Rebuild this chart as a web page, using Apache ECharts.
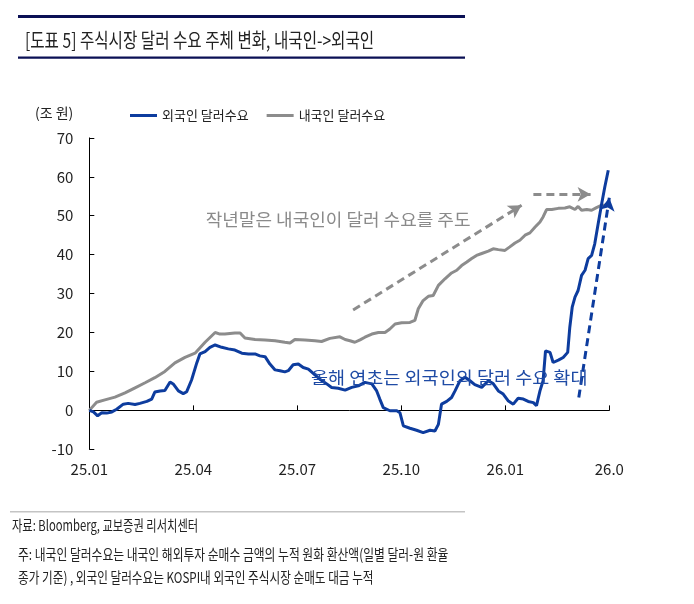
<!DOCTYPE html>
<html>
<head>
<meta charset="utf-8">
<script src="https://cdn.jsdelivr.net/npm/echarts@6/dist/echarts.min.js"></script>
<style>
    html, body {margin: 0; padding: 0; background: #fff;}
    #container {width: 694px; height: 604px;}
</style>
</head>
<body>
<div id="container"></div>
<script>
// x 값은 25.01 부터의 개월 수
var xLabels = ['25.01', '25.04', '25.07', '25.10', '26.01', '26.0'];

var domMonths = [0.00, 0.21, 0.45, 0.74, 1.03, 1.32, 1.61, 1.89, 2.18, 2.47, 2.76, 3.05, 3.34, 3.63, 3.77, 3.91,
    4.20, 4.35, 4.49, 4.78, 5.07, 5.36, 5.64, 5.79, 5.93, 6.22, 6.51, 6.70, 6.94, 7.23, 7.38, 7.52, 7.66, 7.81,
    7.95, 8.15, 8.34, 8.53, 8.67, 8.82, 9.01, 9.25, 9.39, 9.49, 9.63, 9.78, 9.92, 10.07, 10.26, 10.45, 10.60,
    10.74, 10.89, 11.03, 11.17, 11.32, 11.51, 11.65, 11.80, 11.99, 12.13, 12.28, 12.42, 12.57, 12.71, 12.86,
    13.00, 13.09, 13.19, 13.34, 13.53, 13.72, 13.86, 14.01, 14.10, 14.20, 14.35, 14.49, 14.63, 14.78, 14.92];
var domValues = [0.0, 2.1, 2.7, 3.4, 4.5, 5.8, 7.1, 8.4, 10.0, 12.2, 13.6, 14.7, 17.5, 20.0, 19.6, 19.6,
    19.9, 19.9, 18.6, 18.2, 18.1, 17.9, 17.5, 17.3, 18.2, 18.1, 17.9, 17.7, 18.5, 18.9, 18.2, 17.9, 17.5, 18.1,
    18.8, 19.6, 20.0, 20.0, 20.9, 22.2, 22.5, 22.6, 23.1, 26.1, 28.2, 29.3, 29.5, 32.1, 33.8, 35.3, 36.0,
    37.2, 38.1, 39.0, 39.8, 40.3, 40.9, 41.5, 41.3, 41.1, 42.0, 43.0, 43.7, 45.0, 45.6, 47.1,
    48.4, 49.7, 51.6, 51.6, 51.9, 52.0, 52.3, 51.6, 52.4, 51.4, 51.6, 51.4, 52.1, 52.7, 52.7];

var forMonths = [0.00, 0.12, 0.24, 0.36, 0.50, 0.65, 0.79, 0.98, 1.12, 1.32, 1.46, 1.66, 1.80, 1.89, 2.04, 2.18,
    2.33, 2.42, 2.57, 2.71, 2.81, 2.95, 3.10, 3.19, 3.34, 3.48, 3.63, 3.82, 4.01, 4.20, 4.40, 4.59, 4.78, 4.92,
    5.07, 5.21, 5.36, 5.50, 5.64, 5.74, 5.88, 6.03, 6.17, 6.32, 6.46, 6.65, 6.85, 6.99, 7.18, 7.38, 7.57, 7.76,
    7.95, 8.15, 8.29, 8.38, 8.48, 8.67, 8.87, 8.96, 9.06, 9.25, 9.44, 9.63, 9.83, 9.97, 10.07, 10.16, 10.31,
    10.45, 10.55, 10.69, 10.84, 10.98, 11.12, 11.32, 11.51, 11.65, 11.80, 11.94, 12.09, 12.23, 12.37, 12.52,
    12.66, 12.81, 12.90, 13.00, 13.09, 13.16, 13.29, 13.38, 13.53, 13.67, 13.80, 13.86, 13.93, 14.01, 14.10,
    14.20, 14.30, 14.39, 14.49, 14.58, 14.68, 14.78, 14.87, 14.97];
var forValues = [0.0, -0.4, -1.4, -0.6, -0.7, -0.4, 0.3, 1.6, 1.8, 1.5, 1.8, 2.3, 2.9, 4.7, 5.0, 5.1,
    7.3, 6.8, 5.0, 4.3, 4.8, 7.8, 12.2, 14.5, 15.1, 16.2, 16.8, 16.2, 15.8, 15.5, 14.7, 14.5, 14.5, 14.0,
    13.8, 11.9, 10.4, 10.2, 9.9, 10.2, 11.7, 11.9, 11.0, 10.6, 9.5, 8.0, 6.8, 5.9, 5.7, 5.2, 5.9, 6.3,
    7.2, 6.8, 5.0, 2.9, 0.7, -0.1, -0.1, -0.6, -4.0, -4.6, -5.1, -5.7, -5.1, -5.3, -3.6, 1.6, 2.3,
    3.3, 5.0, 7.6, 8.5, 7.6, 6.6, 5.9, 7.6, 6.9, 5.0, 4.2, 2.4, 1.6, 3.1, 2.9,
    2.3, 2.0, 1.2, 5.0, 7.6, 15.3, 14.9, 12.3, 12.9, 13.6, 14.9, 21.3, 26.5, 29.1, 30.8,
    34.7, 36.0, 39.0, 39.8, 42.8, 48.0, 53.1, 57.4, 61.7];

var blue = '#0d3c9e';
var gray = '#8c8c8c';
var font = '"Noto Sans CJK KR", "Noto Sans", sans-serif';

function pairs(xs, ys) {
    var result = [];
    for (var i = 0; i < xs.length; i++) {
        result.push([xs[i], ys[i]]);
    }
    return result;
}

function arrow(x1, y1, x2, y2, color) {
    return [
        {coord: [x1, y1], symbol: 'none', lineStyle: {color: color, width: 3, type: [8, 5]}},
        {coord: [x2, y2], symbol: 'arrow', symbolSize: [11, 13]}
    ];
}

function text(x, y, str, size, color, scale) {
    return {
        type: 'text', x: x, y: y, scaleX: scale, z: 100,
        style: {text: str, font: size + 'px ' + font, fill: color, verticalAlign: 'middle', align: 'left'}
    };
}

var myChart = echarts.init(document.getElementById('container'));
var option = {
    animation: false,
    grid: {left: 89.3, right: 84.7, top: 137.9, bottom: 154.7},
    legend: {
        left: 130, top: 109, padding: 0,
        icon: 'rect', itemWidth: 27, itemHeight: 3, itemGap: 18,
        textStyle: {fontFamily: font, fontSize: 13, color: '#222'},
        data: ['외국인 달러수요', '내국인 달러수요']
    },
    xAxis: [
        {
            type: 'value', min: 0, max: 15, interval: 3, position: 'bottom',
            axisLine: {onZero: true, lineStyle: {color: '#000', width: 1}},
            axisTick: {inside: true, length: 5, lineStyle: {color: '#000'}},
            axisLabel: {show: false},
            splitLine: {show: false}
        },
        {
            type: 'value', min: 0, max: 15, interval: 3, position: 'bottom',
            axisLine: {show: false, onZero: false},
            axisTick: {show: false},
            axisLabel: {
                margin: 12, fontFamily: font, fontSize: 15, color: '#222',
                formatter: function (v) {
                    return xLabels[Math.round(v / 3)];
                }
            },
            splitLine: {show: false}
        }
    ],
    yAxis: {
        type: 'value', min: -10, max: 70, interval: 10,
        name: '(조 원)', nameLocation: 'end', nameGap: 25,
        nameTextStyle: {
            fontFamily: font, fontSize: 14, color: '#222',
            align: 'right', verticalAlign: 'middle', padding: [0, 16, 0, 0]
        },
        axisLine: {show: true, lineStyle: {color: '#000', width: 1}},
        axisTick: {show: true, inside: true, length: 5, lineStyle: {color: '#000'}},
        axisLabel: {margin: 16, fontFamily: font, fontSize: 15, color: '#222'},
        splitLine: {show: false}
    },
    series: [
        {
            name: '내국인 달러수요', type: 'line', xAxisIndex: 0,
            data: pairs(domMonths, domValues),
            showSymbol: false, symbol: 'none',
            lineStyle: {color: gray, width: 3},
            itemStyle: {color: gray},
            markLine: {
                silent: true, label: {show: false},
                data: [
                    arrow(7.61, 25.8, 12.47, 52.7, gray),
                    arrow(12.81, 55.5, 14.46, 55.5, gray)
                ],
                itemStyle: {color: gray}
            }
        },
        {
            name: '외국인 달러수요', type: 'line', xAxisIndex: 0,
            data: pairs(forMonths, forValues),
            showSymbol: false, symbol: 'none',
            lineStyle: {color: blue, width: 3},
            itemStyle: {color: blue},
            markLine: {
                silent: true, label: {show: false},
                data: [
                    arrow(14.12, 3.3, 15.0, 54.6, blue)
                ],
                itemStyle: {color: blue}
            }
        }
    ],
    graphic: [
        {type: 'rect', shape: {x: 18, y: 15, width: 447, height: 3}, style: {fill: '#0b1055'}},
        {type: 'rect', shape: {x: 18, y: 56.5, width: 447, height: 2.3}, style: {fill: '#0b1055'}},
        text(25, 40, '[도표 5] 주식시장 달러 수요 주체 변화, 내국인->외국인', 20, '#222', 0.78),
        text(205.7, 219.5, '작년말은 내국인이 달러 수요를 주도', 17, '#8a8a8a', 1.06),
        text(311, 378, '올해 연초는 외국인의 달러 수요 확대', 17, '#1f4ba5', 1.09),
        {type: 'rect', shape: {x: 10, y: 511, width: 455, height: 1.5}, style: {fill: '#c4c4c4'}},
        text(12, 525, '자료: Bloomberg, 교보증권 리서치센터', 15, '#222', 0.75),
        text(18, 554, '주: 내국인 달러수요는 내국인 해외투자 순매수 금액의 누적 원화 환산액(일별 달러-원 환율', 15, '#222', 0.785),
        text(18, 577, '종가 기준) , 외국인 달러수요는 KOSPI내 외국인 주식시장 순매도 대금 누적', 15, '#222', 0.775)
    ]
};
myChart.setOption(option);
</script>
</body>
</html>
